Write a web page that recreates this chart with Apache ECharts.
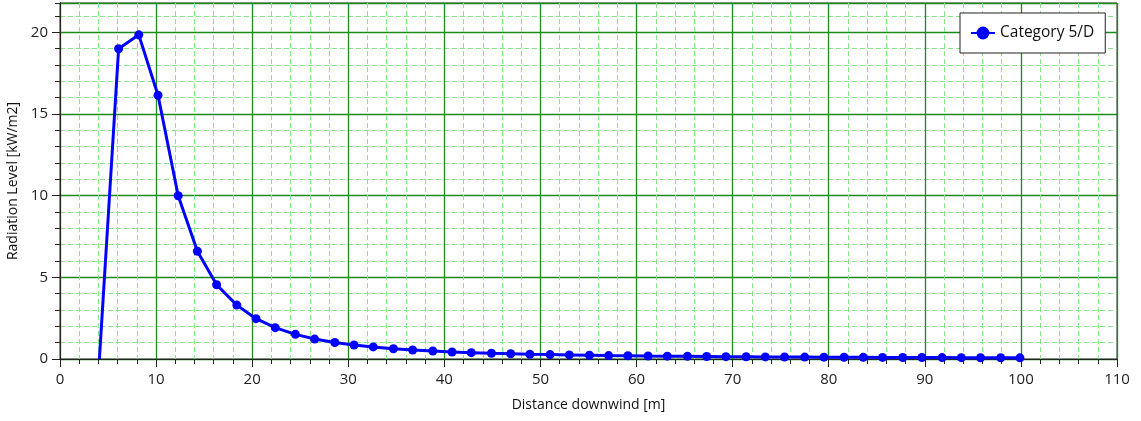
<!DOCTYPE html>
<html>
<head>
<meta charset="utf-8">
<script src="https://cdn.jsdelivr.net/npm/echarts@6/dist/echarts.min.js"></script>
<style>
html,body{margin:0;padding:0;background:#fff;}
#chart{width:1141px;height:421px;}
</style>
</head>
<body>
<div id="chart"></div>
<script>
const seriesName = 'Category 5/D';
const distance = [4.1, 6.1, 8.2, 10.2, 12.3, 14.3, 16.3, 18.4, 20.4, 22.4, 24.5, 26.5, 28.6, 30.6, 32.6, 34.7,
  36.7, 38.8, 40.8, 42.8, 44.9, 46.9, 48.9, 51.0, 53.0, 55.1, 57.1, 59.1, 61.2, 63.2, 65.3, 67.3,
  69.3, 71.4, 73.4, 75.4, 77.5, 79.5, 81.6, 83.6, 85.6, 87.7, 89.7, 91.8, 93.8, 95.8, 97.9, 99.9];
const radiation = [0, 19.0, 19.85, 16.15, 10.0, 6.6, 4.55, 3.3, 2.47, 1.92, 1.51, 1.22, 1.01, 0.86, 0.74, 0.63,
  0.55, 0.49, 0.43, 0.39, 0.35, 0.32, 0.29, 0.27, 0.25, 0.23, 0.21, 0.20, 0.185, 0.175, 0.165, 0.155,
  0.145, 0.138, 0.13, 0.125, 0.118, 0.112, 0.107, 0.102, 0.097, 0.093, 0.089, 0.085, 0.082, 0.079, 0.076, 0.073];
const xTicks = {min: 0, max: 110, major: 10};
const yTicks = {min: 0, max: 21.8, major: 5, minor: 1};

const font = 'Open Sans, Noto Sans, sans-serif';
const pts = distance.map((x, i) => i === 0 ? {value: [x, radiation[i]], symbol: 'none'} : [x, radiation[i]]);

const chart = echarts.init(document.getElementById('chart'));
chart.setOption({
  animation: false,
  backgroundColor: '#fff',
  grid: {left: 60, right: 24, top: 3, bottom: 62, show: true, borderColor: '#333', borderWidth: 1,
         containLabel: false, outerBoundsMode: 'none'},
  legend: {
    left: 960, top: 13,
    backgroundColor: '#fff', borderColor: '#222', borderWidth: 1,
    padding: [12, 11, 12, 10],
    itemWidth: 24, itemHeight: 16, itemGap: 5,
    textStyle: {fontFamily: font, fontSize: 15.5, color: '#111'},
    data: [seriesName]
  },
  xAxis: {
    type: 'value', min: xTicks.min, max: xTicks.max, interval: xTicks.major,
    name: 'Distance downwind [m]', nameLocation: 'middle', nameGap: 39,
    nameTextStyle: {fontFamily: font, fontSize: 14, color: '#111'},
    axisLine: {show: true, onZero: false, lineStyle: {color: '#222', width: 1}},
    axisTick: {show: true, length: 8, lineStyle: {color: '#222'}},
    minorTick: {show: true, splitNumber: 5, length: 5, lineStyle: {color: '#222'}},
    axisLabel: {fontFamily: font, fontSize: 15, color: '#222', margin: 13},
    splitLine: {show: true, lineStyle: {color: '#1e8a1e', width: 1.3}},
    minorSplitLine: {show: true, lineStyle: {color: '#86e686', type: [5, 3], width: 1}}
  },
  yAxis: [{
    type: 'value', min: yTicks.min, max: yTicks.max, interval: yTicks.minor,
    axisLine: {show: true, lineStyle: {color: '#222'}},
    axisTick: {show: true, length: 5, lineStyle: {color: '#222'}},
    axisLabel: {show: false},
    splitLine: {show: true, lineStyle: {color: '#86e686', type: [5, 3], width: 1}}
  }, {
    type: 'value', min: yTicks.min, max: yTicks.max, interval: yTicks.major, position: 'left',
    name: 'Radiation Level [kW/m2]', nameLocation: 'middle', nameGap: 35,
    nameTextStyle: {fontFamily: font, fontSize: 14, color: '#111'},
    axisLine: {show: true, lineStyle: {color: '#222'}},
    axisTick: {show: true, length: 8, lineStyle: {color: '#222'}},
    axisLabel: {fontFamily: font, fontSize: 15, color: '#222', margin: 12, showMaxLabel: false},
    splitLine: {show: true, lineStyle: {color: '#1e8a1e', width: 1.3}}
  }],
  series: [{
    name: seriesName, type: 'line', yAxisIndex: 0,
    data: pts,
    symbol: 'circle', symbolSize: 9, showSymbol: true,
    lineStyle: {color: '#0000ff', width: 3},
    itemStyle: {color: '#0000ff'},
    z: 5
  }]
});
</script>
</body>
</html>
